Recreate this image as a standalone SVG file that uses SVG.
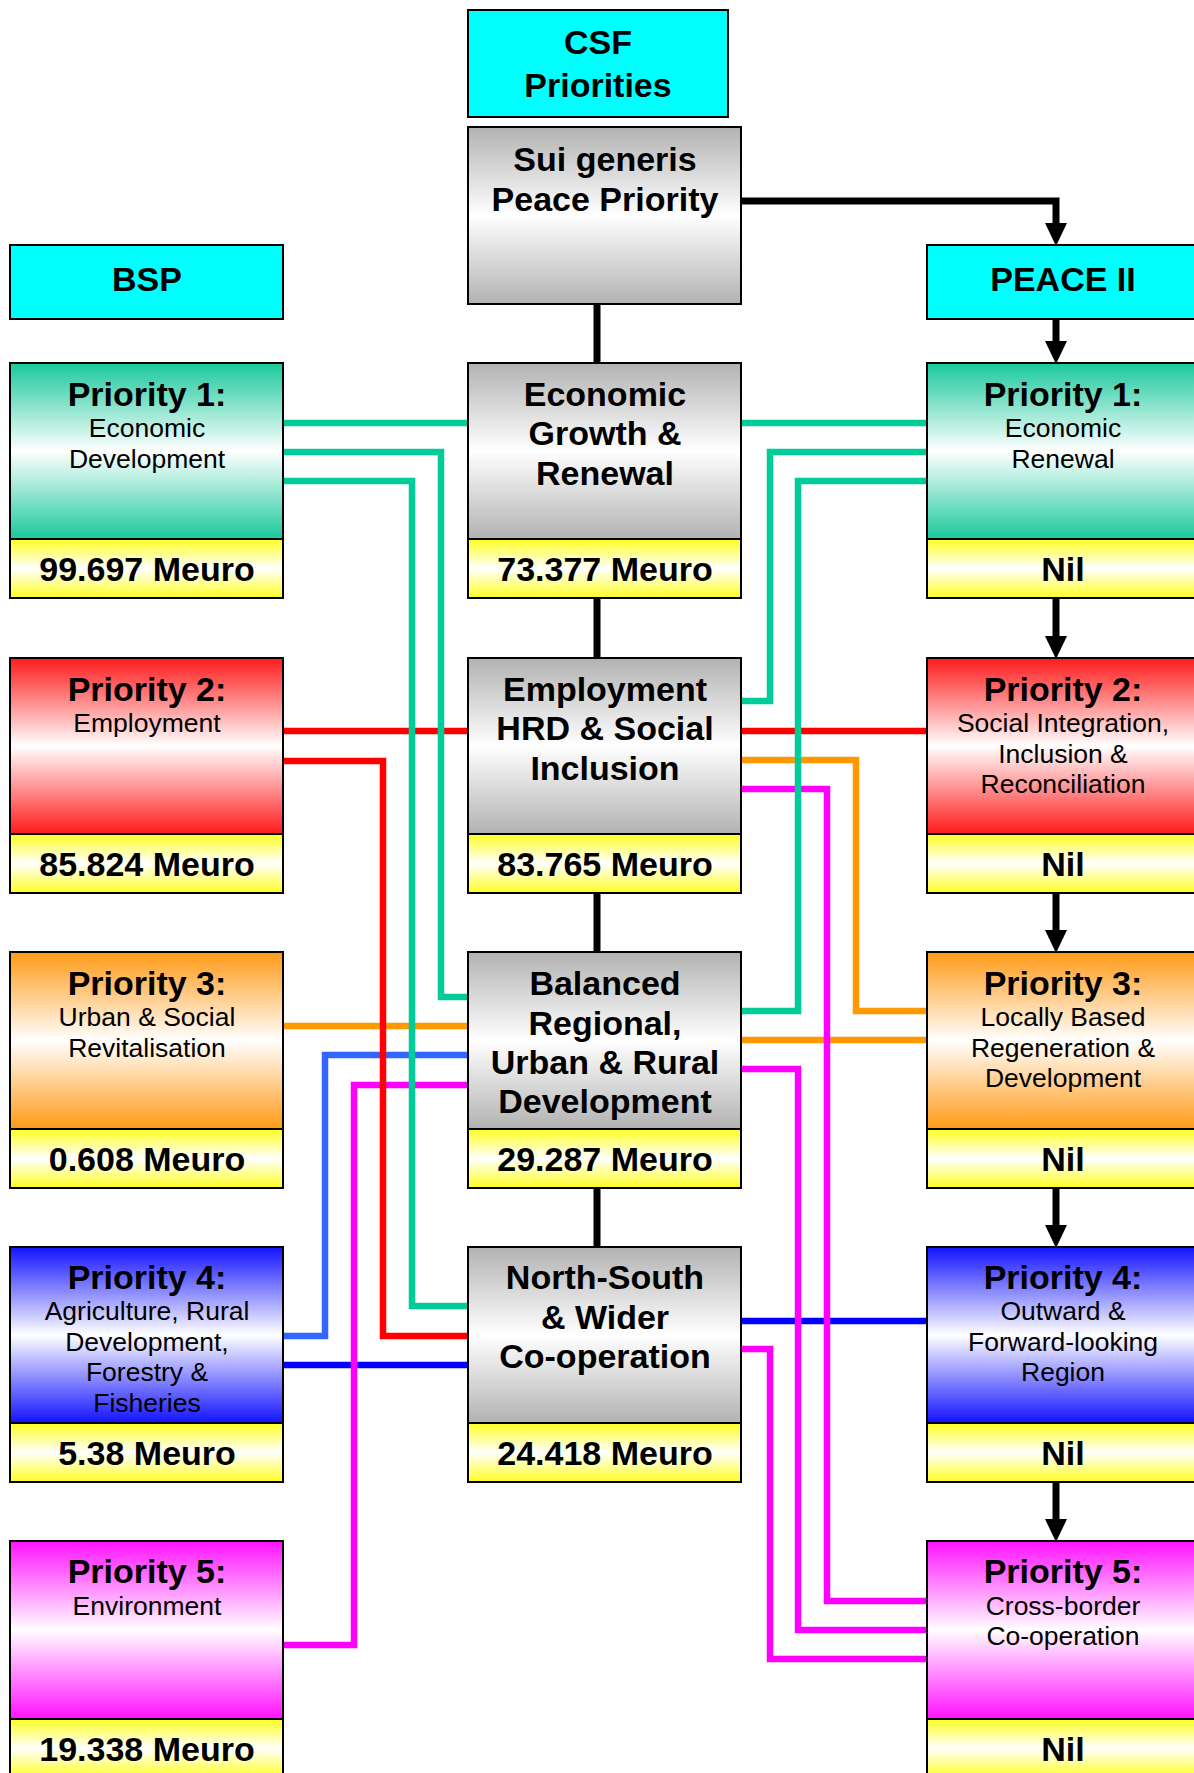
<svg xmlns="http://www.w3.org/2000/svg" width="1194" height="1773" viewBox="0 0 1194 1773">
  <defs>
    <linearGradient id="gGray" x1="0" y1="0" x2="0" y2="1">
      <stop offset="0" stop-color="#b2b2b2"/><stop offset="0.5" stop-color="#ffffff"/><stop offset="1" stop-color="#b2b2b2"/>
    </linearGradient>
    <linearGradient id="gGreen" x1="0" y1="0" x2="0" y2="1">
      <stop offset="0" stop-color="#1ac99c"/><stop offset="0.5" stop-color="#ffffff"/><stop offset="1" stop-color="#1ac99c"/>
    </linearGradient>
    <linearGradient id="gRed" x1="0" y1="0" x2="0" y2="1">
      <stop offset="0" stop-color="#ff1a1a"/><stop offset="0.5" stop-color="#ffffff"/><stop offset="1" stop-color="#ff1a1a"/>
    </linearGradient>
    <linearGradient id="gOrange" x1="0" y1="0" x2="0" y2="1">
      <stop offset="0" stop-color="#ff9a16"/><stop offset="0.5" stop-color="#ffffff"/><stop offset="1" stop-color="#ff9a16"/>
    </linearGradient>
    <linearGradient id="gBlue" x1="0" y1="0" x2="0" y2="1">
      <stop offset="0" stop-color="#1212ff"/><stop offset="0.5" stop-color="#ffffff"/><stop offset="1" stop-color="#1212ff"/>
    </linearGradient>
    <linearGradient id="gMagenta" x1="0" y1="0" x2="0" y2="1">
      <stop offset="0" stop-color="#ff12ff"/><stop offset="0.5" stop-color="#ffffff"/><stop offset="1" stop-color="#ff12ff"/>
    </linearGradient>
    <linearGradient id="gYellow" x1="0" y1="0" x2="0" y2="1">
      <stop offset="0" stop-color="#ffff22"/><stop offset="0.5" stop-color="#ffffff"/><stop offset="1" stop-color="#ffff22"/>
    </linearGradient>
    <marker id="arrow" markerUnits="userSpaceOnUse" markerWidth="24" markerHeight="24" refX="12" refY="11" orient="auto">
      <path d="M0,0 L23,11 L0,22 Z" fill="#000"/>
    </marker>
    <style>
      .box { stroke: #000; stroke-width: 2; }
      .hdr { fill: #00ffff; }
      .gray { fill: url(#gGray); }
      .green { fill: url(#gGreen); }
      .red { fill: url(#gRed); }
      .orange { fill: url(#gOrange); }
      .blue { fill: url(#gBlue); }
      .magenta { fill: url(#gMagenta); }
      .money { fill: url(#gYellow); }
      text { font-family: "Liberation Sans", Arial, sans-serif; fill: #000; text-anchor: middle; }
      .b { font-weight: bold; font-size: 34px; }
      .r { font-size: 26.5px; }
      .link { fill: none; stroke-width: 6.5; stroke-linejoin: miter; }
      .trunk { fill: none; stroke: #000; stroke-width: 7; }
      .cG { stroke: #00cc99; }
      .cR { stroke: #ff0000; }
      .cO { stroke: #ff9900; }
      .cLB { stroke: #3366ff; }
      .cB { stroke: #0000ff; }
      .cM { stroke: #ff00ff; }
    </style>
  </defs>

  <rect x="0" y="0" width="1194" height="1773" fill="#fff"/>

  <!-- connectors -->
  <g id="connectors">
    <!-- black trunk and arrows -->
    <path class="trunk" d="M597,304 V363 M597,598 V658 M597,893 V952 M597,1188 V1247"/>
    <path class="trunk" d="M741,201 H1056 V235" marker-end="url(#arrow)"/>
    <path class="trunk" d="M1056,319 V353" marker-end="url(#arrow)"/>
    <path class="trunk" d="M1056,598 V648" marker-end="url(#arrow)"/>
    <path class="trunk" d="M1056,893 V942" marker-end="url(#arrow)"/>
    <path class="trunk" d="M1056,1188 V1237" marker-end="url(#arrow)"/>
    <path class="trunk" d="M1056,1482 V1531" marker-end="url(#arrow)"/>

    <!-- left side, straight runs -->
    <path class="link cG" d="M283,423 H468"/>
    <path class="link cR" d="M283,731 H468"/>
    <path class="link cO" d="M283,1026 H468"/>
    <path class="link cB" d="M283,1365 H468"/>
    <!-- left side, routed runs -->
    <path class="link cLB" d="M468,1055 H325 V1336 H283"/>
    <path class="link cM" d="M468,1085 H354 V1645 H283"/>
    <path class="link cR" d="M283,761 H383 V1336 H468"/>
    <path class="link cG" d="M283,481 H412 V1306 H468"/>
    <path class="link cG" d="M283,452 H441 V997 H468"/>

    <!-- right side, straight runs -->
    <path class="link cG" d="M741,423 H927"/>
    <path class="link cR" d="M741,731 H927"/>
    <path class="link cO" d="M741,1040 H927"/>
    <path class="link cB" d="M741,1321 H927"/>
    <!-- right side, routed runs -->
    <path class="link cO" d="M741,760 H856 V1011 H927"/>
    <path class="link cM" d="M741,789 H827 V1601 H927"/>
    <path class="link cM" d="M741,1069 H798 V1630 H927"/>
    <path class="link cM" d="M741,1349 H770 V1659 H927"/>
    <path class="link cG" d="M927,452 H770 V701 H741"/>
    <path class="link cG" d="M927,481 H798 V1011 H741"/>
  </g>

  <!-- column headers -->
  <g id="csf-header">
    <rect class="box hdr" x="468" y="10" width="260" height="107"/>
    <text class="b" x="598" y="54">CSF</text>
    <text class="b" x="598" y="97">Priorities</text>
  </g>
  <g id="bsp-header">
    <rect class="box hdr" x="10" y="245" width="273" height="74"/>
    <text class="b" x="147" y="291">BSP</text>
  </g>
  <g id="peace-header">
    <rect class="box hdr" x="927" y="245" width="272" height="74"/>
    <text class="b" x="1063" y="291">PEACE II</text>
  </g>

  <!-- centre column -->
  <g id="sui-generis">
    <rect class="box gray" x="468" y="127" width="273" height="177"/>
    <text class="b" x="605" y="171">Sui generis</text>
    <text class="b" x="605" y="211">Peace Priority</text>
  </g>
  <g id="csf-1">
    <rect class="box gray" x="468" y="363" width="273" height="176"/>
    <rect class="box money" x="468" y="539" width="273" height="59"/>
    <text class="b" x="605" y="406">Economic</text>
    <text class="b" x="605" y="445">Growth &amp;</text>
    <text class="b" x="605" y="485">Renewal</text>
    <text class="b" x="605" y="581">73.377 Meuro</text>
  </g>
  <g id="csf-2">
    <rect class="box gray" x="468" y="658" width="273" height="176"/>
    <rect class="box money" x="468" y="834" width="273" height="59"/>
    <text class="b" x="605" y="701">Employment</text>
    <text class="b" x="605" y="740">HRD &amp; Social</text>
    <text class="b" x="605" y="780">Inclusion</text>
    <text class="b" x="605" y="876">83.765 Meuro</text>
  </g>
  <g id="csf-3">
    <rect class="box gray" x="468" y="952" width="273" height="177"/>
    <rect class="box money" x="468" y="1129" width="273" height="59"/>
    <text class="b" x="605" y="995">Balanced</text>
    <text class="b" x="605" y="1035">Regional,</text>
    <text class="b" x="605" y="1074">Urban &amp; Rural</text>
    <text class="b" x="605" y="1113">Development</text>
    <text class="b" x="605" y="1171">29.287 Meuro</text>
  </g>
  <g id="csf-4">
    <rect class="box gray" x="468" y="1247" width="273" height="176"/>
    <rect class="box money" x="468" y="1423" width="273" height="59"/>
    <text class="b" x="605" y="1289">North-South</text>
    <text class="b" x="605" y="1329">&amp; Wider</text>
    <text class="b" x="605" y="1368">Co-operation</text>
    <text class="b" x="605" y="1465">24.418 Meuro</text>
  </g>

  <!-- BSP column -->
  <g id="bsp-1">
    <rect class="box green" x="10" y="363" width="273" height="176"/>
    <rect class="box money" x="10" y="539" width="273" height="59"/>
    <text class="b" x="147" y="406">Priority 1:</text>
    <text class="r" x="147" y="437">Economic</text>
    <text class="r" x="147" y="468">Development</text>
    <text class="b" x="147" y="581">99.697 Meuro</text>
  </g>
  <g id="bsp-2">
    <rect class="box red" x="10" y="658" width="273" height="176"/>
    <rect class="box money" x="10" y="834" width="273" height="59"/>
    <text class="b" x="147" y="701">Priority 2:</text>
    <text class="r" x="147" y="732">Employment</text>
    <text class="b" x="147" y="876">85.824 Meuro</text>
  </g>
  <g id="bsp-3">
    <rect class="box orange" x="10" y="952" width="273" height="177"/>
    <rect class="box money" x="10" y="1129" width="273" height="59"/>
    <text class="b" x="147" y="995">Priority 3:</text>
    <text class="r" x="147" y="1026">Urban &amp; Social</text>
    <text class="r" x="147" y="1057">Revitalisation</text>
    <text class="b" x="147" y="1171">0.608 Meuro</text>
  </g>
  <g id="bsp-4">
    <rect class="box blue" x="10" y="1247" width="273" height="176"/>
    <rect class="box money" x="10" y="1423" width="273" height="59"/>
    <text class="b" x="147" y="1289">Priority 4:</text>
    <text class="r" x="147" y="1320">Agriculture, Rural</text>
    <text class="r" x="147" y="1351">Development,</text>
    <text class="r" x="147" y="1381">Forestry &amp;</text>
    <text class="r" x="147" y="1412">Fisheries</text>
    <text class="b" x="147" y="1465">5.38 Meuro</text>
  </g>
  <g id="bsp-5">
    <rect class="box magenta" x="10" y="1541" width="273" height="178"/>
    <rect class="box money" x="10" y="1719" width="273" height="59"/>
    <text class="b" x="147" y="1583">Priority 5:</text>
    <text class="r" x="147" y="1615">Environment</text>
    <text class="b" x="147" y="1761">19.338 Meuro</text>
  </g>

  <!-- PEACE II column -->
  <g id="peace-1">
    <rect class="box green" x="927" y="363" width="272" height="176"/>
    <rect class="box money" x="927" y="539" width="272" height="59"/>
    <text class="b" x="1063" y="406">Priority 1:</text>
    <text class="r" x="1063" y="437">Economic</text>
    <text class="r" x="1063" y="468">Renewal</text>
    <text class="b" x="1063" y="581">Nil</text>
  </g>
  <g id="peace-2">
    <rect class="box red" x="927" y="658" width="272" height="176"/>
    <rect class="box money" x="927" y="834" width="272" height="59"/>
    <text class="b" x="1063" y="701">Priority 2:</text>
    <text class="r" x="1063" y="732">Social Integration,</text>
    <text class="r" x="1063" y="763">Inclusion &amp;</text>
    <text class="r" x="1063" y="793">Reconciliation</text>
    <text class="b" x="1063" y="876">Nil</text>
  </g>
  <g id="peace-3">
    <rect class="box orange" x="927" y="952" width="272" height="177"/>
    <rect class="box money" x="927" y="1129" width="272" height="59"/>
    <text class="b" x="1063" y="995">Priority 3:</text>
    <text class="r" x="1063" y="1026">Locally Based</text>
    <text class="r" x="1063" y="1057">Regeneration &amp;</text>
    <text class="r" x="1063" y="1087">Development</text>
    <text class="b" x="1063" y="1171">Nil</text>
  </g>
  <g id="peace-4">
    <rect class="box blue" x="927" y="1247" width="272" height="176"/>
    <rect class="box money" x="927" y="1423" width="272" height="59"/>
    <text class="b" x="1063" y="1289">Priority 4:</text>
    <text class="r" x="1063" y="1320">Outward &amp;</text>
    <text class="r" x="1063" y="1351">Forward-looking</text>
    <text class="r" x="1063" y="1381">Region</text>
    <text class="b" x="1063" y="1465">Nil</text>
  </g>
  <g id="peace-5">
    <rect class="box magenta" x="927" y="1541" width="272" height="178"/>
    <rect class="box money" x="927" y="1719" width="272" height="59"/>
    <text class="b" x="1063" y="1583">Priority 5:</text>
    <text class="r" x="1063" y="1615">Cross-border</text>
    <text class="r" x="1063" y="1645">Co-operation</text>
    <text class="b" x="1063" y="1761">Nil</text>
  </g>
</svg>
